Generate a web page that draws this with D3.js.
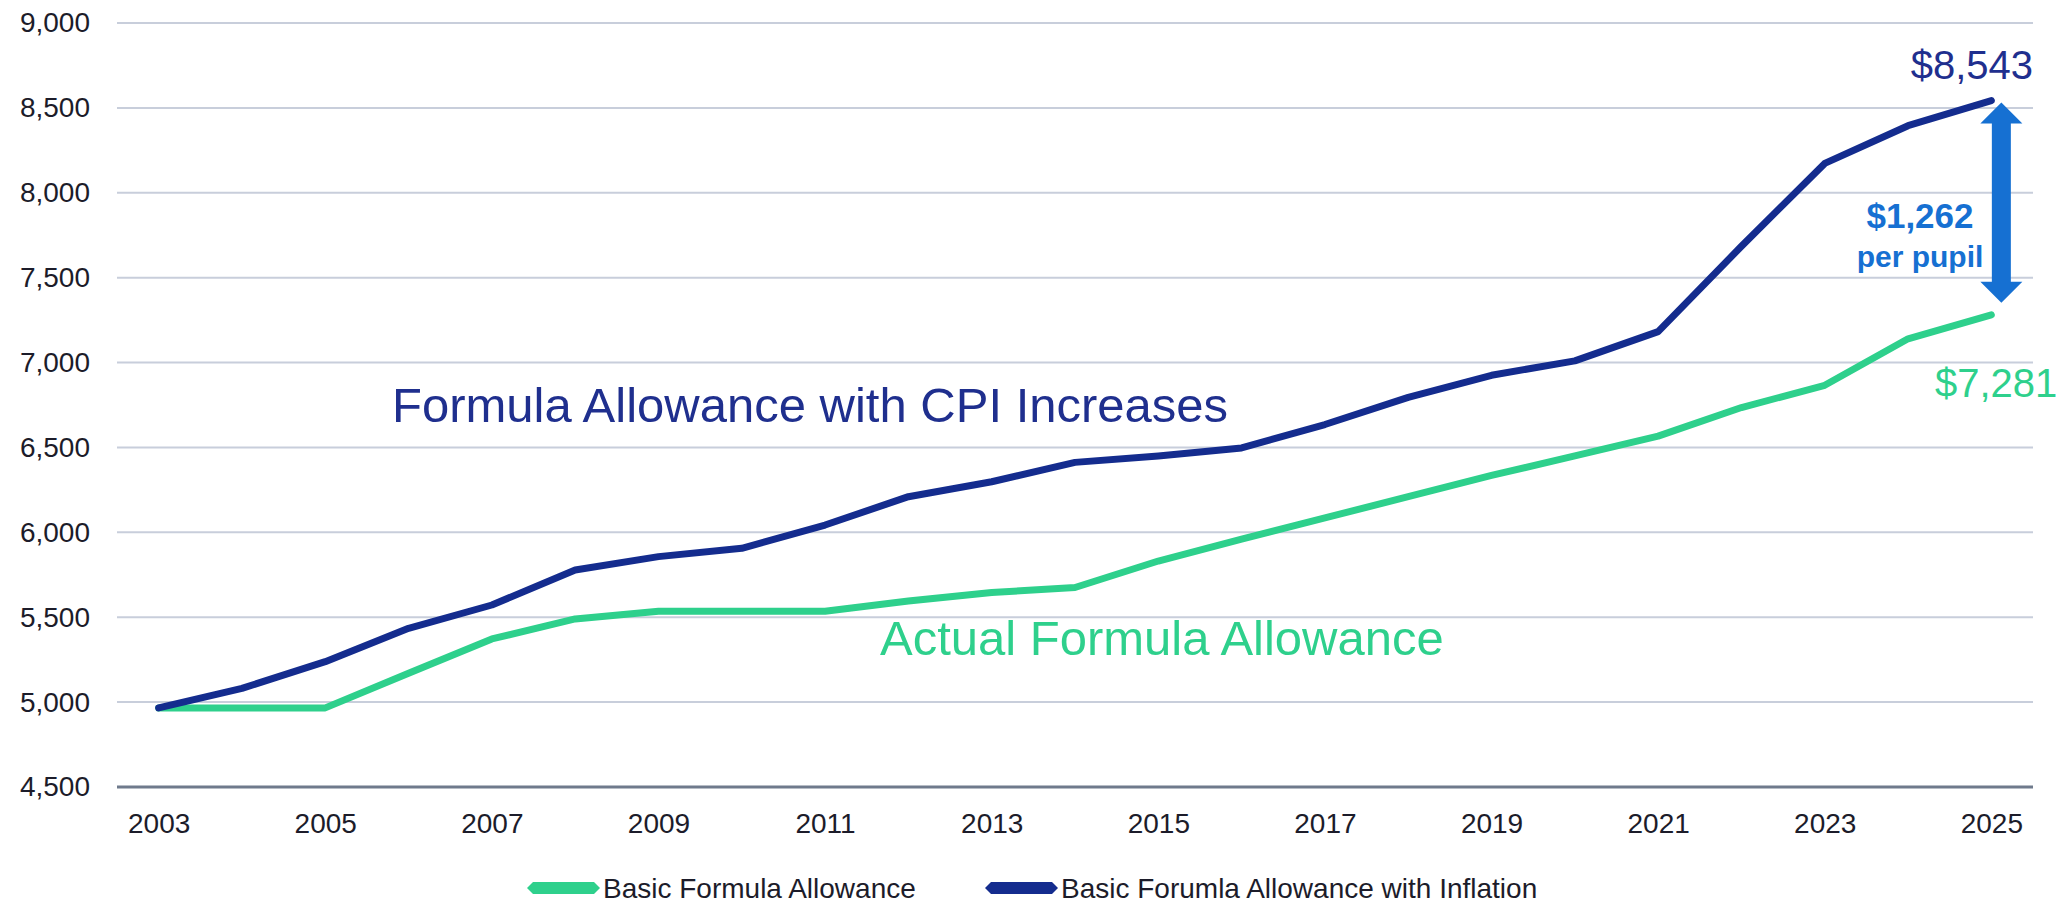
<!DOCTYPE html>
<html>
<head>
<meta charset="utf-8">
<script src="https://cdn.jsdelivr.net/npm/d3@7"></script>
<style>
  html, body { margin: 0; padding: 0; background: #fff; }
  svg { display: block; font-family: "Liberation Sans", Arial, sans-serif; }
</style>
</head>
<body>
<svg id="chart" width="2063" height="904"></svg>
<script>
// data
var years = d3.range(2003, 2026);
var tickYears = [2003, 2005, 2007, 2009, 2011, 2013, 2015, 2017, 2019, 2021, 2023, 2025];
var yTicks = [4500, 5000, 5500, 6000, 6500, 7000, 7500, 8000, 8500, 9000];

var basic = [4966, 4966, 4966, 5170, 5372, 5490, 5535, 5535, 5535, 5595, 5645, 5675,
             5831, 5960, 6085, 6210, 6335, 6450, 6567, 6735, 6866, 7140, 7281];
var inflation = [4966, 5081, 5238, 5435, 5572, 5778, 5857, 5906, 6043, 6210, 6298, 6412,
                 6450, 6497, 6635, 6795, 6925, 7010, 7182, 7685, 8173, 8395, 8543];

var seriesNames = ["Basic Formula Allowance", "Basic Forumla Allowance with Inflation"];
var green = "#2ed08c", navy = "#142c8e", arrowBlue = "#1670d2";

var width = 2063, height = 904;
var margin = {top: 23, right: 30, bottom: 117, left: 117};

var svg = d3.select("#chart");

var x = d3.scalePoint()
  .domain(years)
  .range([margin.left, width - margin.right])
  .padding(0.5);

var y = d3.scaleLinear()
  .domain([4500, 9000])
  .range([height - margin.bottom, margin.top]);

// gridlines
svg.append("g")
  .selectAll("line")
  .data(yTicks)
  .enter().append("line")
    .attr("x1", margin.left)
    .attr("x2", width - margin.right)
    .attr("y1", function(d) { return y(d); })
    .attr("y2", function(d) { return y(d); })
    .attr("stroke", function(d) { return d === 4500 ? "#6f7a8c" : "#c8cedb"; })
    .attr("stroke-width", function(d) { return d === 4500 ? 3 : 2; });

// y axis labels
var yAxis = svg.append("g")
  .attr("transform", "translate(" + margin.left + ",0)")
  .call(d3.axisLeft(y).tickValues(yTicks).tickSize(0).tickPadding(27).tickFormat(d3.format(",")));
yAxis.select(".domain").remove();
yAxis.selectAll("text")
  .attr("font-size", 28)
  .attr("fill", "#1c1c2a")
  .attr("font-family", "Liberation Sans, Arial, sans-serif");

// x axis labels
var xAxis = svg.append("g")
  .attr("transform", "translate(0," + (height - margin.bottom) + ")")
  .call(d3.axisBottom(x).tickValues(tickYears).tickSize(0).tickPadding(26));
xAxis.select(".domain").remove();
xAxis.selectAll("text")
  .attr("font-size", 28)
  .attr("fill", "#1c1c2a")
  .attr("font-family", "Liberation Sans, Arial, sans-serif");

// lines
var line = d3.line()
  .x(function(d, i) { return x(years[i]); })
  .y(function(d) { return y(d); });

svg.append("path")
  .datum(basic)
  .attr("d", line)
  .attr("fill", "none")
  .attr("stroke", green)
  .attr("stroke-width", 7)
  .attr("stroke-linejoin", "round")
  .attr("stroke-linecap", "round");

svg.append("path")
  .datum(inflation)
  .attr("d", line)
  .attr("fill", "none")
  .attr("stroke", navy)
  .attr("stroke-width", 7)
  .attr("stroke-linejoin", "round")
  .attr("stroke-linecap", "round");

// series captions inside the plot
svg.append("text")
  .attr("x", 392).attr("y", 422)
  .attr("font-size", 49)
  .attr("fill", "#1f2f8e")
  .text("Formula Allowance with CPI Increases");

svg.append("text")
  .attr("x", 880).attr("y", 655)
  .attr("font-size", 49)
  .attr("fill", green)
  .text("Actual Formula Allowance");

// end labels
var last = years.length - 1;
var xEnd = x(years[last]);

svg.append("text")
  .attr("x", 2033).attr("y", y(inflation[last]) - 22)
  .attr("text-anchor", "end")
  .attr("font-size", 40)
  .attr("fill", "#1f2f8e")
  .text("$" + d3.format(",")(inflation[last]));

svg.append("text")
  .attr("x", 1935).attr("y", y(basic[last]) + 82)
  .attr("font-size", 40)
  .attr("fill", green)
  .text("$" + d3.format(",")(basic[last]));

// gap arrow between the two end points
var ax = xEnd + 10,
    arrowTop = y(inflation[last]) + 2,
    arrowBot = y(basic[last]) - 12;
var hw = 21, hh = 21, sw = 9.5;
svg.append("path")
  .attr("d", "M" + ax + "," + arrowTop +
    " L" + (ax + hw) + "," + (arrowTop + hh) +
    " L" + (ax + sw) + "," + (arrowTop + hh) +
    " L" + (ax + sw) + "," + (arrowBot - hh) +
    " L" + (ax + hw) + "," + (arrowBot - hh) +
    " L" + ax + "," + arrowBot +
    " L" + (ax - hw) + "," + (arrowBot - hh) +
    " L" + (ax - sw) + "," + (arrowBot - hh) +
    " L" + (ax - sw) + "," + (arrowTop + hh) +
    " L" + (ax - hw) + "," + (arrowTop + hh) + " Z")
  .attr("fill", arrowBlue);

svg.append("text")
  .attr("x", 1920).attr("y", 228)
  .attr("text-anchor", "middle")
  .attr("font-size", 35)
  .attr("font-weight", "bold")
  .attr("fill", arrowBlue)
  .text("$" + d3.format(",")(inflation[last] - basic[last]));

svg.append("text")
  .attr("x", 1920).attr("y", 267)
  .attr("text-anchor", "middle")
  .attr("font-size", 30)
  .attr("font-weight", "bold")
  .attr("fill", arrowBlue)
  .text("per pupil");

// legend
var legend = svg.append("g").attr("transform", "translate(0,888)");
var legendItems = [
  {name: seriesNames[0], color: green, x: 527},
  {name: seriesNames[1], color: navy, x: 985}
];
var item = legend.selectAll("g")
  .data(legendItems)
  .enter().append("g")
    .attr("transform", function(d) { return "translate(" + d.x + ",0)"; });

item.append("path")
  .attr("d", "M0,0 L6,-6 L67,-6 L73,0 L67,6 L6,6 Z")
  .attr("fill", function(d) { return d.color; });

item.append("text")
  .attr("x", 76)
  .attr("dy", "0.35em")
  .attr("font-size", 28)
  .attr("fill", "#1c1c2a")
  .text(function(d) { return d.name; });
</script>
</body>
</html>
